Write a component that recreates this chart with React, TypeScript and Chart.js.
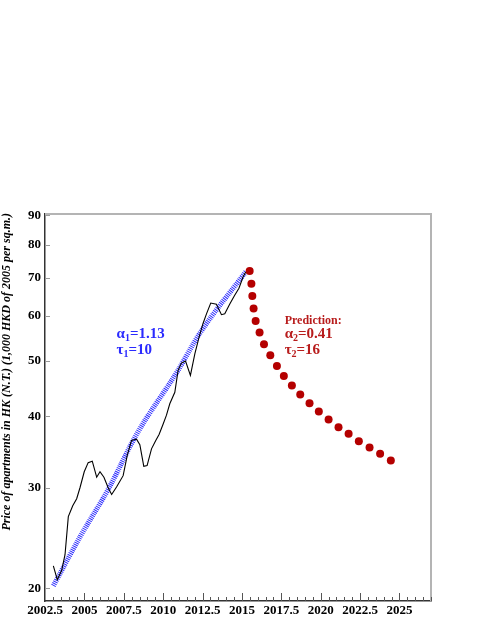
import React, { useEffect, useRef } from "react";
import { Chart, registerables } from "chart.js";

Chart.register(...registerables);

// Observed price index (black line)
const priceYears = [
  2003.03, 2003.28, 2003.56, 2003.77, 2003.98, 2004.26, 2004.51, 2004.72, 2004.99, 2005.24,
  2005.5, 2005.78, 2005.99, 2006.24, 2006.51, 2006.73, 2007.04, 2007.46, 2007.72, 2007.99,
  2008.31, 2008.52, 2008.77, 2008.98, 2009.26, 2009.53, 2009.74, 2010.0, 2010.21, 2010.42,
  2010.74, 2010.95, 2011.16, 2011.42, 2011.73, 2012.01, 2012.28, 2012.53, 2012.75, 2013.02,
  2013.38, 2013.7, 2013.91, 2014.22, 2014.54, 2014.81, 2015.07, 2015.24,
];
const priceValues = [
  21.9, 20.7, 21.5, 22.9, 26.7, 27.9, 28.7, 30.0, 32.0, 33.2,
  33.4, 31.3, 32.0, 31.3, 30.0, 29.2, 30.1, 31.5, 34.2, 36.3,
  36.5, 35.7, 32.7, 32.8, 35.1, 36.3, 37.2, 38.8, 40.2, 42.1,
  44.1, 48.2, 49.6, 50.0, 47.2, 51.5, 55.1, 58.2, 60.5, 63.2,
  62.9, 60.3, 60.5, 62.9, 65.2, 67.1, 70.2, 71.6,
];

// Fit (blue hatched line)
const fitYears = [2003.03, 2004.72, 2006.51, 2008.31, 2010.95, 2012.32, 2015.28];
const fitValues = [20.2, 24.6, 29.8, 37.2, 48.2, 55.9, 71.9];

// Prediction (red dots)
const predYears = [
  2015.49, 2015.6, 2015.66, 2015.74, 2015.87, 2016.12, 2016.4, 2016.8, 2017.22, 2017.66,
  2018.17, 2018.7, 2019.29, 2019.88, 2020.5, 2021.13, 2021.77, 2022.42, 2023.1, 2023.77,
  2024.45,
];
const predValues = [
  71.9, 68.3, 65.0, 61.8, 58.8, 56.1, 53.5, 51.2, 49.0, 47.1,
  45.3, 43.7, 42.2, 40.8, 39.5, 38.3, 37.3, 36.2, 35.3, 34.4,
  33.5,
];

const xTickValues = [2002.5, 2005, 2007.5, 2010, 2012.5, 2015, 2017.5, 2020, 2022.5, 2025];
const yTickValues = [20, 30, 40, 50, 60, 70, 80, 90];

const yTitle = "Price of apartments in HK (N.T.) (1,000 HKD of 2005 per sq.m.)";

const SERIF = "'Liberation Serif', 'Times New Roman', serif";
const BLUE = "#2a2aff";
const RED = "#b40000";

function drawSubLine(ctx: CanvasRenderingContext2D, x: number, y: number, sym: string, sub: string, rest: string, size: number) {
  ctx.font = `bold ${size}px ${SERIF}`;
  ctx.textBaseline = "middle";
  ctx.textAlign = "left";
  ctx.fillText(sym, x, y);
  let cx = x + ctx.measureText(sym).width;
  ctx.font = `bold ${Math.round(size * 0.68)}px ${SERIF}`;
  ctx.fillText(sub, cx, y + 4);
  cx += ctx.measureText(sub).width;
  ctx.font = `bold ${size}px ${SERIF}`;
  ctx.fillText(rest, cx, y);
}

const decorPlugin = {
  id: "decor",
  afterDraw(chart: any) {
    const { ctx, chartArea, scales } = chart;
    const { left, right, top, bottom } = chartArea;
    const x = scales.x;
    const y = scales.y;
    ctx.save();
    // top & right frame
    ctx.strokeStyle = "#b4b4b4";
    ctx.lineWidth = 2;
    ctx.beginPath();
    ctx.moveTo(left, top);
    ctx.lineTo(right, top);
    ctx.lineTo(right, bottom);
    ctx.stroke();

    // x ticks (inside)
    ctx.strokeStyle = "#555";
    ctx.lineWidth = 1;
    for (let i = 1; i <= 49; i++) {
      const v = 2002.5 + i * 0.5;
      const px = Math.round(x.getPixelForValue(v)) + 0.5;
      const major = Math.abs(v / 2.5 - Math.round(v / 2.5)) < 1e-6;
      const len = major ? 8 : 4;
      ctx.beginPath();
      ctx.moveTo(px, bottom);
      ctx.lineTo(px, bottom - len);
      ctx.stroke();
    }
    // y ticks (inside)
    ctx.strokeStyle = "#999";
    for (const v of yTickValues) {
      const py = Math.round(y.getPixelForValue(v)) + 0.5;
      ctx.beginPath();
      ctx.moveTo(left, py);
      ctx.lineTo(left + 5, py);
      ctx.stroke();
    }

    // y axis title
    ctx.save();
    ctx.translate(7, top - 1);
    ctx.rotate(-Math.PI / 2);
    ctx.font = `italic bold 12px ${SERIF}`;
    ctx.fillStyle = "#000";
    ctx.textAlign = "right";
    ctx.textBaseline = "middle";
    ctx.fillText(yTitle, 0, 0);
    ctx.restore();

    // annotations
    const ax = x.getPixelForValue(2007.04);
    const ay = y.getPixelForValue(55.7);
    ctx.fillStyle = BLUE;
    drawSubLine(ctx, ax, ay, "α", "1", "=1.13", 15);
    drawSubLine(ctx, ax, ay + 16, "τ", "1", "=10", 15);

    const bx = x.getPixelForValue(2017.71);
    const by = y.getPixelForValue(58.9);
    ctx.fillStyle = "#b81c1c";
    ctx.font = `bold 12px ${SERIF}`;
    ctx.textAlign = "left";
    ctx.textBaseline = "middle";
    ctx.fillText("Prediction:", bx, by);
    drawSubLine(ctx, bx, by + 14, "α", "2", "=0.41", 15);
    drawSubLine(ctx, bx, by + 30, "τ", "2", "=16", 15);
    ctx.restore();
  },
};

export default function App() {
  const ref = useRef<HTMLCanvasElement | null>(null);
  useEffect(() => {
    if (!ref.current) return;
    const tickFont = { family: SERIF, weight: "bold" as const, size: 13 };
    const chart = new Chart(ref.current, {
      type: "scatter",
      data: {
        datasets: [
          {
            type: "scatter",
            data: predYears.map((t, i) => ({ x: t, y: predValues[i] })),
            backgroundColor: RED,
            borderWidth: 0,
            pointRadius: 4,
          },
          {
            type: "line",
            data: priceYears.map((t, i) => ({ x: t, y: priceValues[i] })),
            borderColor: "#000",
            borderWidth: 1.1,
            pointRadius: 0,
            tension: 0,
            fill: false,
          },
          {
            type: "line",
            data: fitYears.map((t, i) => ({ x: t, y: fitValues[i] })),
            borderColor: BLUE,
            borderWidth: 5,
            borderDash: [1, 1],
            borderCapStyle: "butt",
            pointRadius: 0,
            cubicInterpolationMode: "monotone",
            fill: false,
          },
        ] as any,
      },
      options: {
        responsive: false,
        animation: false,
        layout: { padding: { top: 214, right: 60, left: 0, bottom: 0 } },
        plugins: { legend: { display: false }, tooltip: { enabled: false } },
        scales: {
          x: {
            type: "linear",
            min: 2002.5,
            max: 2027,
            afterBuildTicks: (s: any) => {
              s.ticks = xTickValues.map((v) => ({ value: v }));
            },
            afterFit: (s: any) => {
              s.height = 34;
            },
            ticks: {
              callback: (v: any) => String(v),
              font: tickFont,
              color: "#000",
              padding: 2,
              maxRotation: 0,
              autoSkip: false,
            },
            grid: { display: false, drawTicks: false },
            border: { display: true, color: "#333", width: 1.5 },
          },
          y: {
            type: "logarithmic",
            min: 19,
            max: 90.5,
            afterBuildTicks: (s: any) => {
              s.ticks = yTickValues.map((v) => ({ value: v }));
            },
            afterFit: (s: any) => {
              s.width = 45;
            },
            ticks: {
              callback: (v: any) => String(v),
              font: tickFont,
              color: "#000",
              padding: 4,
              autoSkip: false,
            },
            grid: { display: false, drawTicks: false },
            border: { display: true, color: "#333", width: 1.5 },
          },
        },
      } as any,
      plugins: [decorPlugin],
    });
    return () => chart.destroy();
  }, []);
  return (
    <div style={{ position: "absolute", left: 0, top: 0, width: 491, height: 635, background: "#fff" }}>
      <canvas ref={ref} width={491} height={635} style={{ display: "block", width: 491, height: 635 }} />
    </div>
  );
}
